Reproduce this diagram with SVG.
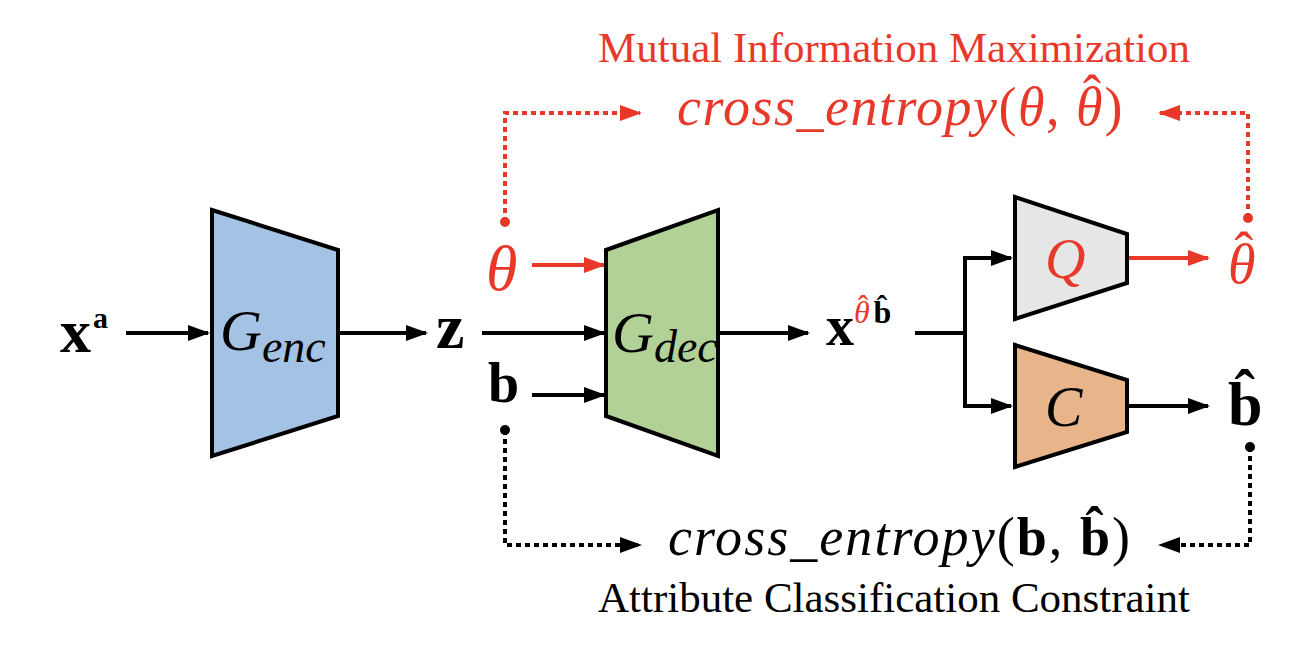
<svg xmlns="http://www.w3.org/2000/svg" width="1310" height="646" viewBox="0 0 1310 646">
<style>
.blk{stroke:#000;stroke-width:4;fill:none}
.red{stroke:#e8382a;stroke-width:4;fill:none}
.dot{stroke-dasharray:5 4}
.shape{stroke:#000;stroke-width:4;stroke-linejoin:miter}
.m{font-family:"Liberation Serif","DejaVu Serif",serif}
.it{font-style:italic}
.bd{font-weight:bold}
.up{font-style:normal}
.rt{fill:#e8382a}
</style>
<defs>
<marker id="ab" markerUnits="userSpaceOnUse" markerWidth="24" markerHeight="18" refX="20" refY="8" orient="auto"><path d="M0,0 L22,8 L0,16 z" fill="#000"/></marker>
<marker id="ar" markerUnits="userSpaceOnUse" markerWidth="24" markerHeight="18" refX="20" refY="8" orient="auto"><path d="M0,0 L22,8 L0,16 z" fill="#e8382a"/></marker>
</defs>

<g id="connectors">
<line class="blk" x1="126" y1="333" x2="208" y2="333" marker-end="url(#ab)"/>
<line class="blk" x1="338" y1="333" x2="426" y2="333" marker-end="url(#ab)"/>
<line class="blk" x1="482" y1="333" x2="604" y2="333" marker-end="url(#ab)"/>
<line class="red" x1="532" y1="265" x2="604" y2="265" marker-end="url(#ar)"/>
<line class="blk" x1="532" y1="395" x2="604" y2="395" marker-end="url(#ab)"/>
<line class="blk" x1="718" y1="333" x2="808" y2="333" marker-end="url(#ab)"/>
<path class="blk" d="M915,333 H965 M965,256 V408"/>
<path class="blk" d="M963,258 H1011" marker-end="url(#ab)"/>
<path class="blk" d="M963,406 H1011" marker-end="url(#ab)"/>
<line class="red" x1="1127" y1="258" x2="1208" y2="258" marker-end="url(#ar)"/>
<line class="blk" x1="1127" y1="406" x2="1208" y2="406" marker-end="url(#ab)"/>
<path class="red dot" d="M505,222 V113 H640" marker-end="url(#ar)"/>
<path class="red dot" d="M1248,218 V113 H1160" marker-end="url(#ar)"/>
<circle cx="505" cy="222" r="5" fill="#e8382a"/>
<circle cx="1248" cy="218" r="5" fill="#e8382a"/>
<path class="blk dot" d="M505,430 V545 H640" marker-end="url(#ab)"/>
<path class="blk dot" d="M1250,447 V545 H1160" marker-end="url(#ab)"/>
<circle cx="505" cy="430" r="5" fill="#000"/>
<circle cx="1250" cy="447" r="5" fill="#000"/>
</g>

<g id="xa"><text class="m bd" x="60" y="352" font-size="62">x<tspan font-size="30" dy="-24" dx="2">a</tspan></text></g>

<g id="genc">
<polygon class="shape" points="212,210 338,250 338,416 212,456" fill="#a4c2e4"/>
<text class="m it" x="220" y="350" font-size="58">G<tspan font-size="46" dy="12">enc</tspan></text>
</g>

<g id="z"><text class="m bd" x="436" y="348" font-size="64">z</text></g>
<g id="theta"><text class="m it rt" x="486" y="290" font-size="64">θ</text></g>
<g id="b"><text class="m bd" x="488" y="402" font-size="56">b</text></g>

<g id="gdec">
<polygon class="shape" points="606,250 718,210 718,456 606,416" fill="#b2d196"/>
<text class="m it" x="612" y="352" font-size="58">G<tspan font-size="46" dy="10">dec</tspan></text>
</g>

<g id="xout"><text class="m bd" x="826" y="345" font-size="56">x<tspan class="it rt" font-weight="normal" font-size="32" dy="-22">θ</tspan><tspan class="rt" font-weight="normal" font-size="32" dx="-12" dy="-6">ˆ</tspan><tspan font-size="32" dx="5" dy="6">b̂</tspan></text></g>

<g id="q">
<polygon class="shape" points="1015,197 1127,234 1127,283 1015,319" fill="#e6e6e6"/>
<text class="m it rt" x="1045" y="278" font-size="56">Q</text>
</g>
<g id="thetahat"><text class="m it rt" x="1228" y="283" font-size="56">θ<tspan class="up" dx="-21" dy="-12">ˆ</tspan></text></g>

<g id="c">
<polygon class="shape" points="1015,345 1127,380 1127,432 1015,467" fill="#e8b48a"/>
<text class="m it" x="1045" y="426" font-size="56">C</text>
</g>
<g id="bhat"><text class="m bd" x="1228" y="425" font-size="62">b̂</text></g>

<g id="mi">
<text class="m rt" x="598" y="62" font-size="43" textLength="592" lengthAdjust="spacingAndGlyphs">Mutual Information Maximization</text>
<text class="m it rt" x="677" y="125" font-size="54" letter-spacing="1.5">cross_entropy<tspan class="up">(</tspan>θ<tspan class="up">,</tspan> θ<tspan class="up" dx="-21" dy="-12">ˆ</tspan><tspan class="up" dx="2" dy="12">)</tspan></text>
</g>

<g id="acc">
<text class="m it" x="668" y="555" font-size="54" textLength="462" lengthAdjust="spacing">cross_entropy<tspan class="up">(</tspan><tspan class="up bd">b</tspan><tspan class="up">,</tspan> <tspan class="up bd">b̂</tspan><tspan class="up">)</tspan></text>
<text class="m" x="598" y="612" font-size="43" textLength="592" lengthAdjust="spacingAndGlyphs">Attribute Classification Constraint</text>
</g>
</svg>
